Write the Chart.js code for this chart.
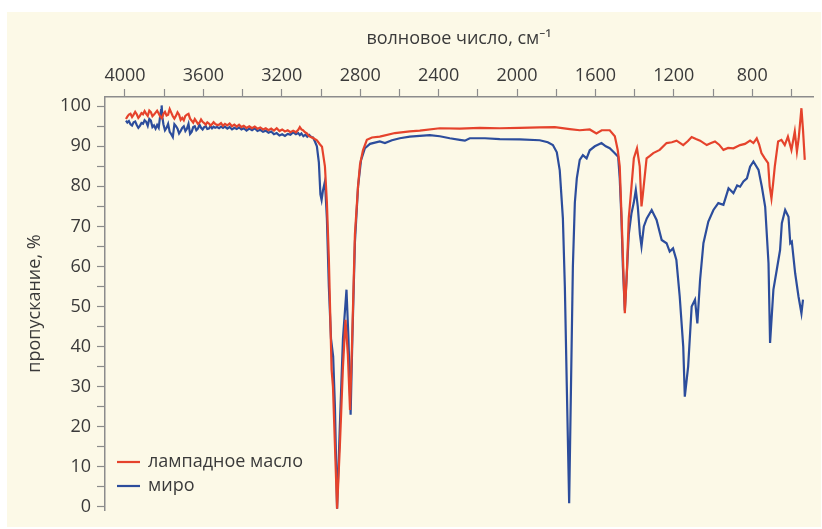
<!DOCTYPE html>
<html>
<head>
<meta charset="utf-8">
<title>ИК-спектры</title>
<script src="https://cdn.jsdelivr.net/npm/chart.js@4.4.1/dist/chart.umd.min.js"></script>
<style>
    html, body { margin: 0; padding: 0; background: #ffffff; }
    canvas { display: block; }
</style>
</head>
<body>
<canvas id="spectrumChart" width="822" height="529"></canvas>
<script>
// Series labels
const oilLabel = 'лампадное масло';
const myrrhLabel = 'миро';

// Lamp oil: wavenumber (cm-1) and transmittance (%)
const oilWave = [
    3995, 3988, 3980, 3972, 3964, 3956, 3948, 3940, 3932, 3924,
    3916, 3908, 3900, 3892, 3884, 3876, 3868, 3860, 3852, 3844,
    3836, 3828, 3820, 3812, 3804, 3796, 3788, 3780, 3772, 3764,
    3756, 3748, 3740, 3732, 3724, 3716, 3708, 3700, 3692, 3684,
    3676, 3668, 3660, 3652, 3644, 3636, 3628, 3620, 3612, 3604,
    3596, 3588, 3580, 3572, 3564, 3556, 3548, 3540, 3530, 3520,
    3510, 3500, 3490, 3478, 3466, 3454, 3442, 3430, 3418, 3406,
    3394, 3380, 3366, 3352, 3338, 3324, 3310, 3296, 3282, 3268,
    3254, 3240, 3226, 3212, 3198, 3184, 3170, 3156, 3142, 3128,
    3116, 3108, 3100, 3092, 3082, 3072, 3062, 3052, 3042, 3032,
    3021, 3006, 2995, 2980, 2970, 2960, 2946, 2939,
    2918, 2904, 2888, 2875, 2863, 2852, 2842, 2827, 2811, 2801,
    2786, 2766, 2740, 2700, 2623, 2547, 2496, 2394, 2292, 2190,
    2088, 1986, 1884, 1807, 1731, 1680, 1629, 1595, 1568, 1527,
    1501, 1486, 1476, 1465, 1450, 1440, 1430, 1416, 1404, 1388,
    1374, 1365, 1358, 1339, 1322, 1305, 1272, 1237, 1210, 1186,
    1152, 1128, 1109, 1087, 1066, 1032, 1010, 990, 969, 947,
    923, 896, 862, 837, 811, 794, 777, 765, 753, 736,
    719, 711, 702, 694, 685, 668, 651, 634, 618, 600,
    583, 572, 563, 549, 541, 532
];
const oilT = [
    96.8, 97.4, 97.9, 98.1, 97.3, 97.9, 98.6, 98.0, 97.1, 97.6,
    98.3, 98.0, 98.8, 98.1, 97.6, 98.9, 98.5, 97.5, 97.9, 98.4,
    98.9, 98.2, 97.4, 97.0, 98.1, 98.6, 97.7, 97.9, 99.3, 98.4,
    97.5, 96.9, 97.6, 98.5, 97.9, 96.6, 97.1, 96.5, 97.6, 97.9,
    98.1, 96.9, 96.4, 95.9, 96.8, 96.2, 95.6, 95.9, 96.7, 96.1,
    95.8, 95.4, 96.0, 95.7, 95.2, 95.5, 96.0, 95.6, 95.3, 95.4,
    95.8, 95.1, 95.6, 95.2, 95.7, 95.0, 95.4, 94.9, 95.4, 94.8,
    95.1, 94.6, 95.0, 94.5, 94.9, 94.4, 94.7, 94.2, 94.5, 94.0,
    94.4, 93.9, 94.5, 93.8, 94.2, 93.7, 94.0, 93.5, 93.9, 93.5,
    94.1, 94.8, 94.2, 94.0, 93.5, 93.2, 92.6, 92.3, 92.1, 91.8,
    91.5, 90.5, 89.9, 85.0, 76.0, 62.0, 34.2, 30.0,
    -0.5, 15.0, 35.0, 46.7, 38.0, 24.2, 40.0, 68.0, 80.0, 85.5,
    89.0, 91.6, 92.2, 92.4, 93.3, 93.7, 93.9, 94.5, 94.4, 94.6,
    94.5, 94.6, 94.7, 94.8, 94.3, 94.0, 94.2, 93.2, 94.0, 94.0,
    92.5, 89.0, 85.0, 70.0, 48.3, 58.0, 72.0, 80.0, 87.0, 89.5,
    85.0, 75.0, 78.0, 87.0, 87.6, 88.3, 89.1, 90.8, 91.0, 91.4,
    90.3, 91.3, 92.3, 91.8, 91.4, 90.3, 90.8, 91.2, 90.4, 89.1,
    89.6, 89.5, 90.3, 90.6, 91.4, 90.8, 92.0, 90.5, 88.3, 87.0,
    85.8, 80.0, 77.0, 80.5, 84.9, 91.2, 91.6, 90.3, 92.4, 89.1,
    93.7, 88.7, 92.0, 99.5, 94.1, 86.6
];

// Myrrh: wavenumber (cm-1) and transmittance (%)
const myrrhWave = [
    3995, 3988, 3980, 3972, 3964, 3956, 3948, 3940, 3932, 3924,
    3916, 3908, 3900, 3892, 3884, 3876, 3868, 3860, 3852, 3844,
    3836, 3828, 3822, 3816, 3813, 3809, 3804, 3796, 3788, 3780,
    3772, 3764, 3756, 3748, 3740, 3732, 3724, 3716, 3708, 3700,
    3692, 3684, 3676, 3668, 3660, 3652, 3644, 3636, 3628, 3620,
    3612, 3604, 3596, 3588, 3580, 3572, 3564, 3556, 3548, 3540,
    3530, 3520, 3510, 3500, 3490, 3478, 3466, 3454, 3442, 3430,
    3418, 3406, 3394, 3380, 3366, 3352, 3338, 3324, 3310, 3296,
    3282, 3268, 3254, 3240, 3226, 3212, 3198, 3184, 3170, 3156,
    3142, 3128, 3116, 3108, 3100, 3090, 3080, 3070, 3060, 3050,
    3041, 3031, 3021, 3011, 3003, 2997, 2990, 2980,
    2970, 2960, 2949, 2938, 2929, 2918, 2904, 2888, 2870, 2860,
    2849, 2840, 2827, 2811, 2796, 2776, 2750, 2700, 2674, 2638,
    2598, 2547, 2496, 2445, 2394, 2343, 2292, 2266, 2241, 2164,
    2088, 1986, 1884, 1843, 1817, 1797, 1782, 1766, 1756, 1746,
    1734, 1722, 1715, 1705, 1695, 1680, 1664, 1645, 1629, 1603,
    1569, 1547, 1527, 1506, 1484, 1476, 1467, 1460, 1450, 1440,
    1430, 1416, 1404, 1394, 1384, 1373, 1365, 1353, 1338, 1313,
    1288, 1262, 1237, 1221, 1204, 1187, 1170, 1152, 1144, 1127,
    1109, 1092, 1080, 1066, 1049, 1024, 998, 973, 947, 921,
    896, 877, 862, 845, 827, 811, 794, 768, 751, 734,
    717, 709, 692, 675, 658, 649, 632, 615, 606, 598,
    581, 564, 549, 541
];
const myrrhT = [
    96.4, 95.9, 96.3, 95.5, 95.2, 96.0, 96.2, 95.3, 94.6, 95.1,
    95.8, 95.6, 96.5, 96.1, 95.1, 96.8, 96.4, 94.8, 95.2, 94.4,
    95.3, 94.6, 97.0, 99.0, 100.2, 97.2, 95.5, 94.0, 94.6, 95.6,
    93.6, 93.0, 92.3, 95.5, 95.0, 94.4, 93.2, 93.8, 94.6, 95.0,
    93.8, 94.4, 95.6, 93.1, 93.6, 94.8, 95.0, 94.0, 94.4, 95.4,
    94.6, 94.2, 94.8, 95.0, 94.3, 94.4, 95.0, 94.5, 94.9, 94.6,
    94.8, 94.5, 94.9, 94.6, 94.9, 94.4, 94.8, 94.2, 94.6, 94.3,
    94.7, 94.2, 94.5, 93.9, 94.4, 94.0, 94.5, 93.8, 94.1, 93.6,
    93.9, 93.4, 93.7, 93.0, 93.3, 92.7, 93.0, 92.6, 93.1, 92.9,
    93.5, 93.0, 93.3, 92.8, 93.2, 92.5, 92.9, 92.4, 92.8, 92.3,
    92.2, 91.2, 90.0, 86.0, 78.0, 76.6, 79.0, 81.2,
    72.0, 55.0, 42.0, 37.5, 25.0, -0.5, 20.0, 42.0, 54.2, 42.0,
    23.0, 42.0, 66.0, 80.0, 86.5, 89.5, 90.6, 91.2, 90.8, 91.5,
    92.0, 92.4, 92.6, 92.8, 92.5, 92.0, 91.6, 91.4, 92.0, 92.0,
    91.8, 91.7, 91.5, 91.0, 90.3, 88.5, 84.0, 72.0, 55.0, 30.0,
    0.9, 38.4, 60.0, 75.9, 82.0, 86.6, 87.8, 87.0, 89.0, 90.0,
    90.8, 90.0, 89.5, 88.5, 87.4, 82.0, 71.6, 60.0, 49.0, 58.0,
    68.0, 73.3, 76.0, 79.1, 75.0, 68.0, 65.0, 70.0, 72.0, 74.1,
    71.6, 66.6, 65.8, 63.7, 64.5, 61.6, 52.5, 40.0, 27.5, 35.0,
    50.0, 51.7, 45.8, 56.7, 65.8, 71.2, 74.1, 75.8, 75.4, 79.5,
    78.3, 80.2, 79.9, 81.2, 82.0, 84.9, 86.2, 84.1, 79.9, 74.9,
    60.8, 40.9, 54.2, 59.1, 64.1, 70.8, 74.1, 72.4, 65.8, 66.2,
    58.3, 52.5, 48.3, 51.7
];

// Axis tick values
const waveTicks = [4000, 3800, 3600, 3400, 3200, 3000, 2800, 2600, 2400, 2200, 2000, 1800, 1600, 1400, 1200, 1000, 800, 600];
const waveLabels = [4000, 3600, 3200, 2800, 2400, 2000, 1600, 1200, 800];
const transTicks = [0, 5, 10, 15, 20, 25, 30, 35, 40, 45, 50, 55, 60, 65, 70, 75, 80, 85, 90, 95, 100];
const transLabels = [0, 10, 20, 30, 40, 50, 60, 70, 80, 90, 100];

const textColor = '#3a3a3a';
const axisColor = '#8c8c8c';
const oilColor = '#e5432c';
const myrrhColor = '#2c4d9c';
const fontFamily = '"Open Sans", "Noto Sans", sans-serif';

// Pair up x and y arrays into points
function toPoints(xs, ys) {
    return xs.map((x, i) => ({ x: x, y: ys[i] }));
}

// Cream panel behind the chart
const panelBackground = {
    id: 'panelBackground',
    beforeDraw(chart) {
        const ctx = chart.ctx;
        ctx.save();
        ctx.fillStyle = '#fcf9e7';
        ctx.fillRect(7, 12, 814, 515);
        ctx.restore();
    }
};

// Legend in the lower left corner of the plot
const cornerLegend = {
    id: 'cornerLegend',
    afterDraw(chart) {
        const ctx = chart.ctx;
        const left = chart.chartArea.left + 12;
        let y = 462;
        ctx.save();
        ctx.font = '18px ' + fontFamily;
        ctx.textBaseline = 'middle';
        chart.data.datasets.forEach(ds => {
            ctx.strokeStyle = ds.borderColor;
            ctx.lineWidth = 2.2;
            ctx.beginPath();
            ctx.moveTo(left, y);
            ctx.lineTo(left + 23, y);
            ctx.stroke();
            ctx.fillStyle = textColor;
            ctx.fillText(ds.label, left + 31, y);
            y += 24;
        });
        ctx.restore();
    }
};

const chart = new Chart(document.getElementById('spectrumChart'), {
    type: 'line',
    data: {
        datasets: [
            {
                label: oilLabel,
                data: toPoints(oilWave, oilT),
                borderColor: oilColor,
                borderWidth: 2.2,
                pointRadius: 0,
                tension: 0
            },
            {
                label: myrrhLabel,
                data: toPoints(myrrhWave, myrrhT),
                borderColor: myrrhColor,
                borderWidth: 2.2,
                pointRadius: 0,
                tension: 0
            }
        ]
    },
    options: {
        responsive: false,
        animation: false,
        devicePixelRatio: 1,
        layout: {
            padding: { left: 18, top: 12, right: 9, bottom: 19 }
        },
        plugins: {
            legend: { display: false },
            tooltip: { enabled: false }
        },
        scales: {
            x: {
                type: 'linear',
                position: 'top',
                reverse: true,
                min: 490,
                max: 4102,
                afterBuildTicks: scale => {
                    scale.ticks = waveTicks.map(v => ({ value: v }));
                },
                afterFit: scale => { scale.height = 85; },
                ticks: {
                    autoSkip: false,
                    maxRotation: 0,
                    padding: 2,
                    color: textColor,
                    font: { family: fontFamily, size: 18 },
                    callback: v => waveLabels.includes(v) ? String(v) : ''
                },
                grid: {
                    drawOnChartArea: false,
                    tickLength: 8,
                    tickColor: axisColor,
                    tickWidth: 1.2
                },
                border: { display: true, color: axisColor, width: 1.5 },
                title: {
                    display: true,
                    text: 'волновое число, см⁻¹',
                    color: textColor,
                    font: { family: fontFamily, size: 18 },
                    padding: { top: 16, bottom: 0 }
                }
            },
            y: {
                type: 'linear',
                position: 'left',
                min: -0.8,
                max: 102.3,
                afterBuildTicks: scale => {
                    scale.ticks = transTicks.map(v => ({ value: v }));
                },
                afterFit: scale => { scale.width = 87; },
                ticks: {
                    autoSkip: false,
                    padding: 6,
                    color: textColor,
                    font: { family: fontFamily, size: 18 },
                    callback: v => transLabels.includes(v) ? String(v) : ''
                },
                grid: {
                    drawOnChartArea: false,
                    tickLength: 8,
                    tickColor: axisColor,
                    tickWidth: 1.2
                },
                border: { display: true, color: axisColor, width: 1.5 },
                title: {
                    display: true,
                    text: 'пропускание, %',
                    color: textColor,
                    font: { family: fontFamily, size: 18 },
                    padding: { top: 6, bottom: 0 }
                }
            }
        }
    },
    plugins: [panelBackground, cornerLegend]
});
</script>
</body>
</html>
